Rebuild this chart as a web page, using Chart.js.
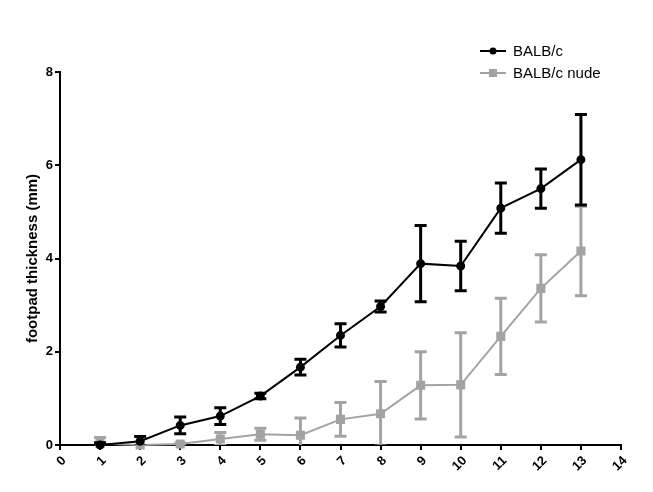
<!DOCTYPE html>
<html>
<head>
<meta charset="utf-8">
<script src="https://cdn.jsdelivr.net/npm/chart.js@4.4.0/dist/chart.umd.min.js"></script>
<style>
  body { margin: 0; background: #fff; }
</style>
</head>
<body>
<canvas id="footpad" width="653" height="492"></canvas>
<script>
var days = [1, 2, 3, 4, 5, 6, 7, 8, 9, 10, 11, 12, 13];
var balbMean = [0.0, 0.08, 0.42, 0.62, 1.05, 1.67, 2.35, 2.97, 3.89, 3.84, 5.08, 5.50, 6.12];
var balbErr  = [0.05, 0.1, 0.18, 0.18, 0.06, 0.17, 0.25, 0.12, 0.82, 0.53, 0.54, 0.42, 0.97];
var nudeMean = [0.03, 0.0, 0.02, 0.13, 0.23, 0.21, 0.55, 0.67, 1.28, 1.29, 2.33, 3.36, 4.16];
var nudeErr  = [0.13, 0.0, 0.02, 0.14, 0.13, 0.37, 0.36, 0.69, 0.72, 1.12, 0.82, 0.72, 0.96];
var seriesNames = ["BALB/c", "BALB/c nude"];
var seriesColors = ["#000000", "#a3a3a3"];
var xTicks = [0, 1, 2, 3, 4, 5, 6, 7, 8, 9, 10, 11, 12, 13, 14];
var yTicks = [0, 2, 4, 6, 8];

function toPoints(ys) {
    return days.map(function(d, i) { return { x: d, y: ys[i] }; });
}

var errors = [balbErr, nudeErr];

// error bars drawn under each dataset's line and markers
var errorBars = {
    id: "errorBars",
    beforeDatasetDraw: function(chart, args) {
        var i = args.index;
        var ds = chart.data.datasets[i];
        var xs = chart.scales.x, ys = chart.scales.y;
        var area = chart.chartArea;
        var ctx = chart.ctx;
        ctx.save();
        ctx.beginPath();
        ctx.rect(area.left - 10, area.top - 10, area.right - area.left + 20, area.bottom - area.top + 10);
        ctx.clip();
        ctx.strokeStyle = ds.borderColor;
        ctx.lineWidth = 3;
        ds.data.forEach(function(p, k) {
            var e = errors[i][k];
            if (!e) return;
            var px = xs.getPixelForValue(p.x);
            var top = ys.getPixelForValue(p.y + e);
            var bot = ys.getPixelForValue(p.y - e);
            ctx.beginPath();
            ctx.moveTo(px, top); ctx.lineTo(px, bot);
            ctx.moveTo(px - 6, top); ctx.lineTo(px + 6, top);
            ctx.moveTo(px - 6, bot); ctx.lineTo(px + 6, bot);
            ctx.stroke();
        });
        ctx.restore();
    }
};

// legend with line + marker, top right
var sideLegend = {
    id: "sideLegend",
    afterDraw: function(chart) {
        var ctx = chart.ctx;
        ctx.save();
        ctx.font = "15px 'Liberation Sans', Arial, sans-serif";
        ctx.textBaseline = "middle";
        seriesNames.forEach(function(name, i) {
            var y = 51 + i * 22;
            ctx.strokeStyle = seriesColors[i];
            ctx.fillStyle = seriesColors[i];
            ctx.lineWidth = 2;
            ctx.beginPath();
            ctx.moveTo(480, y); ctx.lineTo(506, y);
            ctx.stroke();
            ctx.beginPath();
            if (i == 0) {
                ctx.arc(493, y, 3.5, 0, Math.PI * 2);
            } else {
                ctx.rect(489, y - 4, 8, 8);
            }
            ctx.fill();
            ctx.fillStyle = "#000";
            ctx.fillText(name, 513, y + 1);
        });
        ctx.restore();
    }
};

var tickFont = { family: "'Liberation Sans', Arial, sans-serif", size: 13, weight: "bold" };

var ChartFootpad = {
    type: "line",
    data: {
        datasets: [{
            label: seriesNames[0],
            data: toPoints(balbMean),
            borderColor: seriesColors[0],
            backgroundColor: seriesColors[0],
            borderWidth: 2,
            pointStyle: "circle",
            pointRadius: 3.5,
            clip: false
        }, {
            label: seriesNames[1],
            data: toPoints(nudeMean),
            borderColor: seriesColors[1],
            backgroundColor: seriesColors[1],
            borderWidth: 2,
            pointStyle: "rect",
            pointRadius: 5,
            clip: false
        }]
    },
    options: {
        responsive: false,
        animation: false,
        layout: { padding: { left: 0, top: 72, right: 32, bottom: 0 } },
        plugins: {
            legend: { display: false },
            tooltip: { enabled: false }
        },
        scales: {
            x: {
                type: "linear",
                min: 0,
                max: 14,
                afterBuildTicks: function(s) { s.ticks = xTicks.map(function(v) { return { value: v }; }); },
                afterFit: function(s) { s.height = 47; },
                grid: { display: true, drawOnChartArea: false, drawTicks: true, tickLength: 5, color: "#000", lineWidth: 2 },
                border: { color: "#000", width: 2 },
                ticks: { color: "#000", font: tickFont, minRotation: 45, maxRotation: 45, autoSkip: false, padding: 3, labelOffset: 4 }
            },
            y: {
                min: 0,
                max: 8,
                afterBuildTicks: function(s) { s.ticks = yTicks.map(function(v) { return { value: v }; }); },
                afterFit: function(s) { s.width = 60; },
                grid: { display: true, drawOnChartArea: false, drawTicks: true, tickLength: 5, color: "#000", lineWidth: 2 },
                border: { color: "#000", width: 2 },
                ticks: { color: "#000", font: tickFont, padding: 2 },
                title: {
                    display: true,
                    text: "footpad thickness (mm)",
                    color: "#000",
                    font: { family: "'Liberation Sans', Arial, sans-serif", size: 15, weight: "bold" },
                    padding: { top: 24, bottom: 0 }
                }
            }
        }
    },
    plugins: [errorBars, sideLegend]
};

var ctxFootpad = document.getElementById("footpad").getContext("2d");
window.Footpad = new Chart(ctxFootpad, ChartFootpad);
</script>
</body>
</html>
